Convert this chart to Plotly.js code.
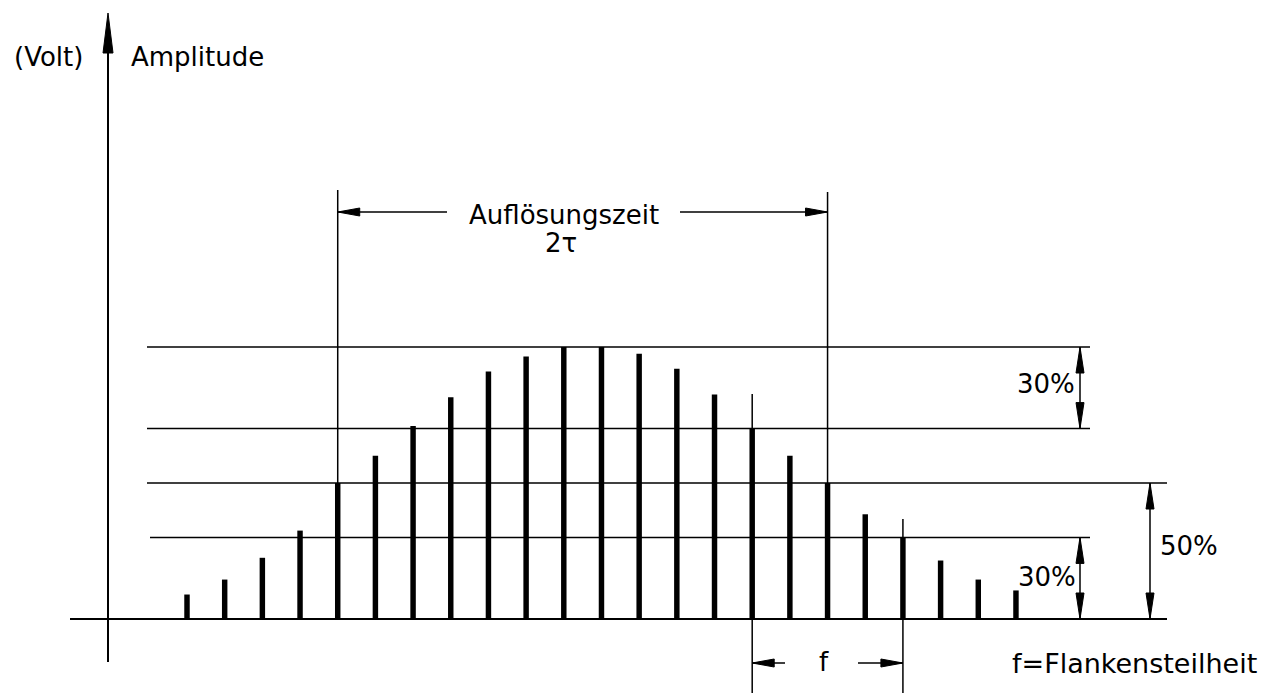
<!DOCTYPE html>
<html><head><meta charset="utf-8">
<script src="https://cdn.plot.ly/plotly-3.0.1.min.js"></script>
<style>html,body{margin:0;padding:0;background:#fff}#chart{width:1272px;height:693px}</style>
</head><body><div id="chart"></div>
<script>
// ---- data ----
const pulseIndex = [1,2,3,4,5,6,7,8,9,10,11,12,13,14,15,16,17,18,19,20,21,22,23];
const amplitudePct = [9,14.5,22.5,32.5,50,60,71,81.5,91,96.5,100,100,97.5,92,82.5,70,60,50,38.5,30,21.5,14.5,10.5];
const levelLines = [100,70,50,30];
const resolutionPulses = [5,18];   // Auflösungszeit 2τ
const slopePulses = [16,20];       // Flankensteilheit f

// ---- pixel helpers for annotation geometry ----
const X0PX=187, PXX=37.68, Y0PX=619, PXY=2.72;
const dx = px => (px-X0PX)/PXX+1;
const dy = py => (Y0PX-py)/PXY;
const amp = i => amplitudePct[pulseIndex.indexOf(i)];

const shapes = [];
const L = (x0,y0,x1,y1,w)=>shapes.push({type:'line',xref:'x',yref:'y',x0,y0,x1,y1,line:{color:'#000',width:w||1.5},layer:'above'});
function head(x,y,dir,len,half){
  const lx=len/PXX, ly=len/PXY, hx=half/PXX, hy=half/PXY;
  let p;
  if(dir==='up') p=`M${x},${y} L${x-hx},${y-ly} L${x+hx},${y-ly} Z`;
  if(dir==='down') p=`M${x},${y} L${x-hx},${y+ly} L${x+hx},${y+ly} Z`;
  if(dir==='left') p=`M${x},${y} L${x+lx},${y-hy} L${x+lx},${y+hy} Z`;
  if(dir==='right') p=`M${x},${y} L${x-lx},${y-hy} L${x-lx},${y+hy} Z`;
  shapes.push({type:'path',xref:'x',yref:'y',path:p,fillcolor:'#000',line:{color:'#000',width:1},layer:'above'});
}

// axes
L(dx(70),0,dx(1167),0,2);
L(dx(108),dy(662),dx(108),dy(40),2);
head(dx(108),dy(13),'up',40,5);
// level lines
L(dx(147),levelLines[0],dx(1090),levelLines[0]);
L(dx(147),levelLines[1],dx(1090),levelLines[1]);
L(dx(147),levelLines[2],dx(1167),levelLines[2]);
L(dx(150),levelLines[3],dx(1090),levelLines[3]);
// resolution time
L(resolutionPulses[0],amp(resolutionPulses[0]),resolutionPulses[0],dy(190));
L(resolutionPulses[1],amp(resolutionPulses[1]),resolutionPulses[1],dy(192));
L(resolutionPulses[0],dy(212),dx(447),dy(212));
L(dx(680),dy(212),resolutionPulses[1],dy(212));
head(resolutionPulses[0],dy(212),'left',22,4);
head(resolutionPulses[1],dy(212),'right',22,4);
// slope
L(slopePulses[0],dy(394),slopePulses[0],dy(693));
L(slopePulses[1],dy(519),slopePulses[1],dy(693));
L(slopePulses[0],dy(663),dx(785),dy(663));
L(dx(858),dy(663),slopePulses[1],dy(663));
head(slopePulses[0],dy(663),'left',22,4);
head(slopePulses[1],dy(663),'right',22,4);
// dimension arrows on right
L(dx(1080),levelLines[0],dx(1080),levelLines[1]);
head(dx(1080),levelLines[0],'up',26,4);
head(dx(1080),levelLines[1],'down',26,4);
L(dx(1080),levelLines[3],dx(1080),0);
head(dx(1080),levelLines[3],'up',26,4);
head(dx(1080),0,'down',26,4);
L(dx(1150),levelLines[2],dx(1150),0);
head(dx(1150),levelLines[2],'up',26,4);
head(dx(1150),0,'down',26,4);

const F = {family:'DejaVu Sans', size:26, color:'#000'};
const T = (text,x,y,xa,sz)=>({text,x,y,xref:'x',yref:'y',showarrow:false,xanchor:xa||'center',yanchor:'middle',font:Object.assign({},F,sz?{size:sz}:{})});
const annotations = [
  T('(Volt)',dx(48),dy(57)),
  T('Amplitude',dx(129),dy(57),'left'),
  T('Auflösungszeit',dx(564),dy(215)),
  T('2τ',dx(561),dy(243)),
  T('30%',dx(1077),dy(384),'right'),
  T('30%',dx(1078),dy(577),'right'),
  T('50%',dx(1158),dy(546),'left'),
  T('f',dx(824),dy(662)),
  T('f=Flankensteilheit',dx(1010),dy(663),'left',27)
];

const trace = {type:'bar',x:pulseIndex,y:amplitudePct,width:0.145,marker:{color:'#000',line:{width:0}},hoverinfo:'skip'};
const layout = {
  width:1272,height:693,margin:{l:0,r:0,t:0,b:0},
  paper_bgcolor:'#fff',plot_bgcolor:'#fff',showlegend:false,
  xaxis:{range:[dx(0),dx(1272)],visible:false,fixedrange:true},
  yaxis:{range:[dy(693),dy(0)],visible:false,fixedrange:true},
  shapes,annotations
};
Plotly.newPlot('chart',[trace],layout,{displayModeBar:false,staticPlot:true});
</script></body></html>
